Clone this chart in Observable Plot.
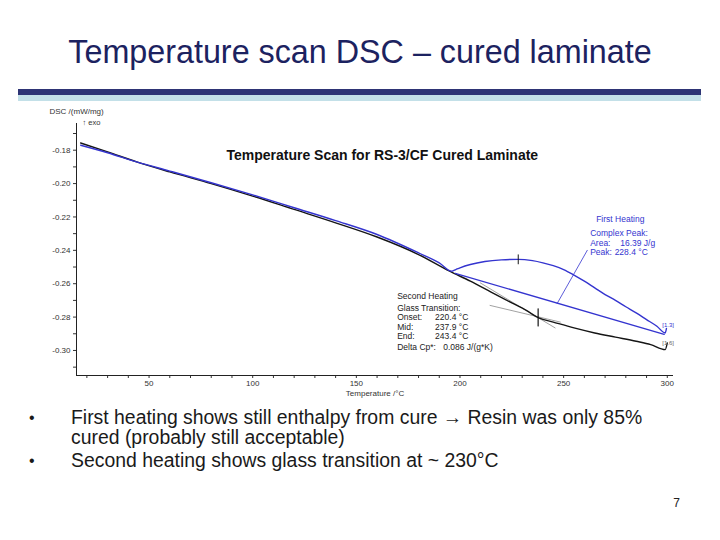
<!DOCTYPE html>
<html>
<head>
<meta charset="utf-8">
<script src="https://cdn.jsdelivr.net/npm/d3@7"></script>
<script src="https://cdn.jsdelivr.net/npm/@observablehq/plot@0.6"></script>
<style>
  body { margin: 0; background: #fff; }
  #slide { position: relative; width: 720px; height: 540px; background: #fff; font-family: "Liberation Sans", Arial, sans-serif; overflow: hidden; }
  .abs { position: absolute; }
  #title { left: 0; width: 720px; top: 34px; height: 36px; line-height: 36px; text-align: center; font-size: 32.3px; color: #1c2260; }
  #bar1 { left: 18px; width: 683px; top: 89px; height: 6px; background: #2e3475; }
  #bar2 { left: 18px; width: 683px; top: 95px; height: 6px; background: #c3e0e8; }
  #chart { left: 0; top: 102px; }
  .bl { font-size: 19.4px; line-height: 19px; height: 19px; color: #1a1a1a; white-space: nowrap; }
  .dot { font-size: 16px; }
  #pg { left: 660px; top: 496px; width: 20px; text-align: right; font-size: 12px; color: #222; }
</style>
</head>
<body>
<div id="slide">
  <div id="title" class="abs"></div>
  <div id="bar1" class="abs"></div>
  <div id="bar2" class="abs"></div>
  <div id="chart" class="abs"></div>
  <div class="abs bl dot" style="left:29px;top:408px;">•</div>
  <div class="abs bl" id="b1a" style="left:71px;top:408px;"></div>
  <div class="abs bl" id="b1b" style="left:71px;top:428px;"></div>
  <div class="abs bl dot" style="left:29px;top:451px;">•</div>
  <div class="abs bl" id="b2" style="left:71px;top:451px;"></div>
  <div id="pg" class="abs"></div>
</div>
<script>
// ---- slide texts ----
const slideTitle = "Temperature scan DSC – cured laminate";
const bulletLines = [
  "First heating shows still enthalpy from cure → Resin was only 85%",
  "cured (probably still acceptable)",
  "Second heating shows glass transition at ~ 230°C"
];
const pageNumber = "7";

// ---- chart data (temperature °C, DSC mW/mg) ----
// Second heating (black)
const temp2 = [17, 30, 44, 60, 80, 100, 120, 140, 160, 180, 195, 205, 215, 225, 232, 238, 245, 255, 265, 275, 285, 292, 299, 300];
const dsc2  = [-0.1757, -0.181, -0.187, -0.193, -0.200, -0.2075, -0.2155, -0.2235, -0.232, -0.2425, -0.2525, -0.2585, -0.265, -0.2715, -0.276, -0.2805, -0.283, -0.2865, -0.2895, -0.292, -0.2945, -0.2965, -0.2995, -0.2955];
// First heating (blue)
const temp1 = [17, 30, 44, 60, 80, 100, 120, 140, 160, 180, 190, 196, 198, 200, 205, 212, 220, 228, 235, 240, 245, 250, 255, 260, 265, 270, 275, 280, 285, 290, 295, 299, 299.6];
const dsc1  = [-0.177, -0.1815, -0.187, -0.1925, -0.1995, -0.2068, -0.2145, -0.2222, -0.2305, -0.2415, -0.2475, -0.2525, -0.2515, -0.2505, -0.2485, -0.2467, -0.2457, -0.2454, -0.2462, -0.2475, -0.2492, -0.2515, -0.2548, -0.2585, -0.2625, -0.2665, -0.270, -0.2738, -0.2775, -0.2815, -0.2855, -0.2895, -0.2868];
// First-heating integration baseline (blue straight line)
const baseT = [197.7, 298.5];
const baseD = [-0.2538, -0.2904];
// Annotation pointer to peak area
const pointerT = [261.4, 246.9];
const pointerD = [-0.2400, -0.2718];
// Glass-transition construction lines (grey)
const tangentA_T = [214.5, 248.4];
const tangentA_D = [-0.2730, -0.2830];
const tangentB_T = [209.8, 245.9];
const tangentB_D = [-0.2595, -0.2865];
// Marker ticks (peak on blue, midpoint on black)
const peakMarkT = [228.1, 228.1];
const peakMarkD = [-0.2427, -0.2481];
const midMarkT = [237.7, 237.7];
const midMarkD = [-0.2750, -0.2853];

// axes
const xMajor = [50, 100, 150, 200, 250, 300];
const xMinor = [20, 30, 40, 60, 70, 80, 90, 110, 120, 130, 140, 160, 170, 180, 190, 210, 220, 230, 240, 260, 270, 280, 290];
const yMajor = [-0.18, -0.20, -0.22, -0.24, -0.26, -0.28, -0.30];
const yMinor = [-0.17, -0.19, -0.21, -0.23, -0.25, -0.27, -0.29, -0.31];
const xDomain = [15, 303];
const yDomain = [-0.315, -0.164];

// chart texts
const chartTitle = "Temperature Scan for RS-3/CF Cured Laminate";
const xLabel = "Temperature /°C";
const yLabel = "DSC /(mW/mg)";
const exoLabel = "↑ exo";
const firstHeader = "First Heating";
const firstLabels = ["Complex Peak:", "Area:", "Peak:"];
const firstValues = ["", "16.39 J/g", "228.4 °C"];
const secondHeader = "Second Heating";
const secondLabels = ["Glass Transition:", "Onset:", "Mid:", "End:", "Delta Cp*:"];
const secondValues = ["", "220.4 °C", "237.9 °C", "243.4 °C", "0.086 J/(g*K)"];
const curveTags = ["[1.3]", "[1.6]"];

// ---- build page ----
document.getElementById("title").textContent = slideTitle;
document.getElementById("b1a").textContent = bulletLines[0];
document.getElementById("b1b").textContent = bulletLines[1];
document.getElementById("b2").textContent = bulletLines[2];
document.getElementById("pg").textContent = pageNumber;

const BLUE = "#3434cf";
const BLACK = "#151515";
const GREY = "#8a8a8a";
const zip = (xs, ys) => xs.map((x, i) => ({x, y: ys[i]}));

// annotation anchors (data units)
const firstRows = [
  {x: 265.7, y: -0.2211, t: firstHeader, w: "bold"},
  {x: 262.8, y: -0.2295, t: firstLabels[0], w: "normal"},
  {x: 262.8, y: -0.2355, t: firstLabels[1], w: "normal"},
  {x: 277.3, y: -0.2355, t: firstValues[1], w: "normal"},
  {x: 262.8, y: -0.2409, t: firstLabels[2], w: "normal"},
  {x: 274.6, y: -0.2409, t: firstValues[2], w: "normal"}
];
const secY = [-0.2750, -0.2804, -0.2858, -0.2912, -0.2978];
const secVX = [188.0, 188.0, 188.0, 188.0, 191.9];
const secondRows = [{x: 169.7, y: -0.2678, t: secondHeader, w: "bold"}];
secondLabels.forEach((t, i) => secondRows.push({x: 169.7, y: secY[i], t, w: "normal"}));
secondValues.forEach((t, i) => { if (t) secondRows.push({x: secVX[i], y: secY[i], t, w: "normal"}); });

const chart = Plot.plot({
  width: 720,
  height: 300,
  marginLeft: 76,
  marginRight: 47,
  marginTop: 21,
  marginBottom: 27,
  style: {fontFamily: "'Liberation Sans', Arial, sans-serif", fontSize: "8px", color: "#333", background: "transparent"},
  x: {domain: xDomain},
  y: {domain: yDomain},
  marks: [
    Plot.axisX({ticks: xMajor, tickSize: 3, tickPadding: 2, tickFormat: d => String(d), label: null, stroke: "#333"}),
    Plot.axisX({ticks: xMinor, tickSize: 3, tickFormat: () => "", label: null, stroke: "#333"}),
    Plot.axisY({ticks: yMajor, tickSize: 3, tickPadding: 3, tickFormat: d => d.toFixed(2), label: null, stroke: "#333"}),
    Plot.axisY({ticks: yMinor, tickSize: 3, tickFormat: () => "", label: null, stroke: "#333"}),
    Plot.ruleY([yDomain[0]], {stroke: "#222", strokeWidth: 1}),
    Plot.ruleX([xDomain[0]], {stroke: "#222", strokeWidth: 1}),
    Plot.text([xLabel], {frameAnchor: "bottom", dy: 20, fontSize: 8, fill: "#333"}),
    Plot.text([yLabel], {frameAnchor: "top-left", textAnchor: "start", dx: -27, dy: -15, fontSize: 8, fill: "#333"}),
    Plot.text([exoLabel], {frameAnchor: "top-left", textAnchor: "start", dx: 6, dy: -4, fontSize: 7.5, fill: "#333"}),
    // construction lines
    Plot.line(zip(tangentA_T, tangentA_D), {x: "x", y: "y", stroke: GREY, strokeWidth: 0.8}),
    Plot.line(zip(tangentB_T, tangentB_D), {x: "x", y: "y", stroke: GREY, strokeWidth: 0.8}),
    // curves
    Plot.line(zip(temp2, dsc2), {x: "x", y: "y", stroke: BLACK, strokeWidth: 1.4, curve: "monotone-x"}),
    Plot.line(zip(temp1, dsc1), {x: "x", y: "y", stroke: BLUE, strokeWidth: 1.4, curve: "monotone-x"}),
    Plot.line(zip(baseT, baseD), {x: "x", y: "y", stroke: BLUE, strokeWidth: 1.3}),
    Plot.line(zip(pointerT, pointerD), {x: "x", y: "y", stroke: BLUE, strokeWidth: 0.8}),
    Plot.line(zip(peakMarkT, peakMarkD), {x: "x", y: "y", stroke: BLACK, strokeWidth: 1}),
    Plot.line(zip(midMarkT, midMarkD), {x: "x", y: "y", stroke: BLACK, strokeWidth: 1.2}),
    // annotations
    Plot.text([chartTitle], {x: () => 162.5, y: () => -0.1833, fontSize: 14, fontWeight: "bold", fill: "#111"}),
    Plot.text(firstRows, {x: "x", y: "y", text: "t", textAnchor: "start", fontSize: 8.5, fontWeight: d => d.w, fill: BLUE}),
    Plot.text(secondRows, {x: "x", y: "y", text: "t", textAnchor: "start", fontSize: 8.5, fontWeight: d => d.w, fill: "#222"}),
    Plot.text([curveTags[0]], {x: () => 297.6, y: () => -0.2846, textAnchor: "start", fontSize: 6, fill: BLUE}),
    Plot.text([curveTags[1]], {x: () => 297.6, y: () => -0.2954, textAnchor: "start", fontSize: 6, fill: "#666"})
  ]
});
document.getElementById("chart").appendChild(chart);
</script>
</body>
</html>
